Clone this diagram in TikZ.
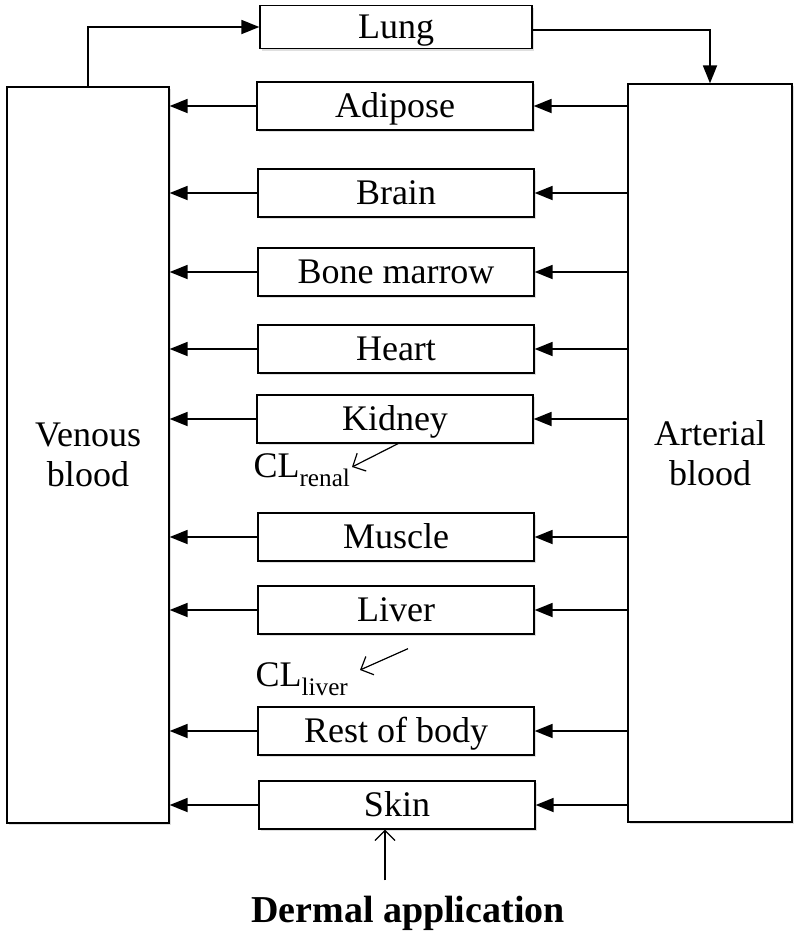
\documentclass[tikz,border=0pt]{standalone}
\usepackage{fontspec}
\setmainfont{Liberation Serif}
\usepackage{tikz}
\usetikzlibrary{arrows.meta, shadows}

\tikzset{
	organ/.style = {draw, line width=1.3pt, fill=white, minimum width=276pt, minimum height=48pt, inner sep=0pt,
		text height=23pt, text depth=0pt,
		drop shadow={opacity=0.25, shadow xshift=2pt, shadow yshift=-2pt}},
	blood/.style = {organ, minimum width=162pt, minimum height=736pt, align=center, text height=, text depth=},
	flow/.style = {line width=1.8pt, -{Triangle[length=18pt, width=14pt]}},
	clear/.style = {line width=1.2pt, -{Straight Barb[length=10pt, width=20pt]}},
}

\begin{document}
\begin{tikzpicture}[x=1pt, y=-1pt, font=\fontsize{36}{40}\selectfont]
			\useasboundingbox (0,0) rectangle (800,945);

			\node[blood] (venous) at (88,455) {Venous\\blood};
			\node[blood, minimum width=164pt, minimum height=738pt] (arterial) at (710,453) {Arterial\\blood};

			\node[organ, minimum width=272pt, minimum height=43pt] (lung) at (396,27) {Lung};
			\node[organ] (adipose) at (395,106) {Adipose};
			\node[organ] (brain) at (396,193) {Brain};
			\node[organ] (marrow) at (396,272) {Bone marrow};
			\node[organ] (heart) at (396,349) {Heart};
			\node[organ] (kidney) at (395,419) {Kidney};
			\node[organ] (muscle) at (396,537) {Muscle};
			\node[organ] (liver) at (396,610) {Liver};
			\node[organ] (rest) at (396,731) {Rest of body};
			\node[organ] (skin) at (397,805) {Skin};

			\node (clrenal) at (302,470) {CL\textsubscript{renal}};
			\node (clliver) at (302,679) {CL\textsubscript{liver}};
			\node[font=\fontsize{38}{42}\selectfont\bfseries] (dermal) at (408,913) {Dermal application};

			\coordinate (renaltip) at (352,467);
			\coordinate (livertip) at (360,670);

			% lung loop
			\draw[flow] (venous.north) |- (lung.west);
			\draw[flow] ([yshift=-3pt]lung.east) -| (arterial.north);

			% arterial blood -> organs -> venous blood
			\foreach \organ in {adipose, brain, marrow, heart, kidney, muscle, liver, rest, skin}{
				\draw[flow] (\organ.west) -- (\organ.west -| venous.east);
				\draw[flow] (\organ.east -| arterial.west) -- (\organ.east);
			}

			% clearance
			\draw[clear] ([xshift=3pt]kidney.south) -- (renaltip);
			\draw[clear] ([xshift=12pt, yshift=-14pt]liver.south) -- (livertip);

			% dose
			\draw[clear] ([xshift=-12pt, yshift=12pt]skin.south |- dermal.north) -- ([xshift=-12pt]skin.south);
		\end{tikzpicture}
\end{document}
